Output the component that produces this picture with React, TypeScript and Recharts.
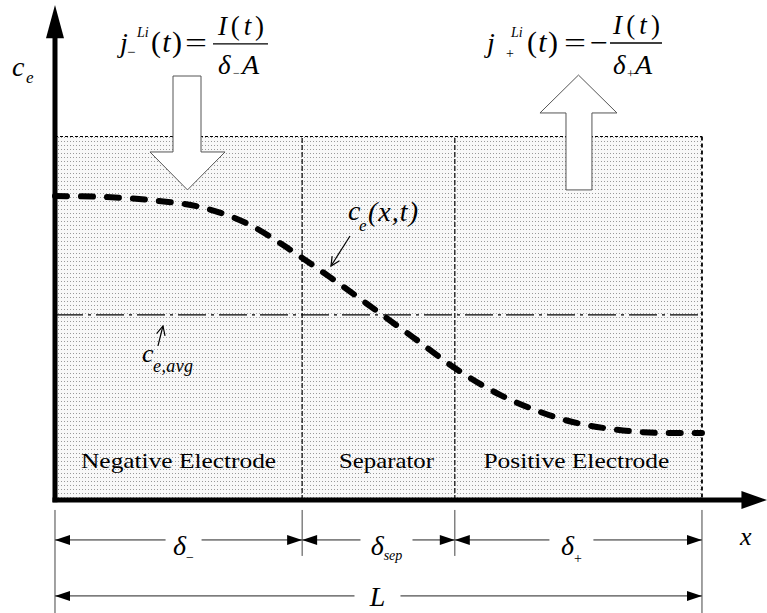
import React from 'react';
import { ComposedChart, Line, XAxis, YAxis, ReferenceArea, ReferenceLine, ReferenceDot } from 'recharts';

// cell length normalised to 0..100, electrolyte concentration normalised to 0..1
const regionNames = ['Negative Electrode', 'Separator', 'Positive Electrode'];
const regionEdges = [0, 38.2, 61.8, 100];
const regionTop = 1;

const curveX = [0, 7, 14.7, 22.4, 30.1, 35.2, 38.2, 42.5, 50.2, 55.3, 61.8, 68.8, 73.4, 78.8, 86.9, 95.1, 100];
const curveC = [0.836, 0.834, 0.825, 0.806, 0.757, 0.702, 0.666, 0.613, 0.514, 0.448, 0.363, 0.289, 0.253, 0.22, 0.193, 0.184, 0.184];
const cAvg = 0.509;

const dimSubs = ['−', 'sep', '+'];

const data = curveX.map((x, i) => ({ x, c: curveC[i] }));

const SERIF = 'Liberation Serif';
const X_DOMAIN = [-8.5, 110.05];
const Y_DOMAIN = [-0.311, 1.3755];
const ROW1 = -0.11;
const ROW2 = -0.264;

type Part = { t: React.ReactNode; dx: number; dy: number; size: number; it?: boolean; len?: number; sp?: boolean };

const paren = (
  <>
    (<tspan fontStyle="italic">t</tspan>)
  </>
);
const numer = (
  <>
    <tspan fontStyle="italic">I</tspan>(<tspan fontStyle="italic">t</tspan>)
  </>
);

const leftFormula: Part[] = [
  { t: 'j', dx: -93, dy: 8, size: 28, it: true },
  { t: '−', dx: -86, dy: 13, size: 15 },
  { t: 'Li', dx: -76, dy: -7, size: 14, it: true },
  { t: paren, dx: -62, dy: 8, size: 30, len: 31, sp: true },
  { t: '=', dx: -28, dy: 8, size: 28, len: 22 },
  { t: numer, dx: 5, dy: -9, size: 27, len: 46, sp: true },
  { t: 'δ', dx: 5, dy: 30, size: 27, it: true },
  { t: '−', dx: 20, dy: 33, size: 12 },
  { t: 'A', dx: 29, dy: 30, size: 28, it: true },
];

const rightFormula: Part[] = [
  { t: 'j', dx: -123, dy: 9, size: 28, it: true },
  { t: '+', dx: -104, dy: 15, size: 14 },
  { t: 'Li', dx: -99, dy: -6, size: 14, it: true },
  { t: paren, dx: -83, dy: 9, size: 30, len: 31, sp: true },
  { t: '=', dx: -46, dy: 9, size: 28, len: 22 },
  { t: '−', dx: -20, dy: 9, size: 28, len: 18 },
  { t: numer, dx: 3, dy: -9, size: 27, len: 47, sp: true },
  { t: 'δ', dx: 3, dy: 31, size: 27, it: true },
  { t: '+', dx: 17, dy: 35, size: 13 },
  { t: 'A', dx: 25, dy: 31, size: 28, it: true },
];

function Parts({ cx, cy, parts, bar }: { cx: number; cy: number; parts: Part[]; bar?: number[] }) {
  return (
    <g fill="#000">
      {parts.map((p, i) => (
        <text
          key={i}
          x={cx + p.dx}
          y={cy + p.dy}
          fontFamily={SERIF}
          fontSize={p.size}
          fontStyle={p.it ? 'italic' : 'normal'}
          textLength={p.len}
          lengthAdjust={p.len ? (p.sp ? 'spacing' : 'spacingAndGlyphs') : undefined}
        >
          {p.t}
        </text>
      ))}
      {bar && <line x1={cx + bar[0]} x2={cx + bar[1]} y1={cy} y2={cy} stroke="#000" strokeWidth={1.3} />}
    </g>
  );
}

const regionShape = (p: any) => {
  const { x, y, width, height } = p;
  return (
    <g>
      <defs>
        <pattern id="dots" width="3" height="4" patternUnits="userSpaceOnUse">
          <rect width="3" height="4" fill="#f8f8f8" />
          <rect x="1" y="1" width="1" height="1" fill="#999" />
        </pattern>
      </defs>
      <rect x={x} y={y} width={width} height={height} fill="url(#dots)" />
      <line x1={x} x2={x + width} y1={y} y2={y} stroke="#000" strokeWidth={1.2} strokeDasharray="3 2" />
      <line x1={x + width} x2={x + width} y1={y} y2={y + height} stroke="#000" strokeWidth={1.8} strokeDasharray="4 3" />
    </g>
  );
};

const blockArrow = (dir: 'down' | 'up', sl: number, sr: number, hf: number) => (p: any) => {
  const { x, y, width: w, height: h } = p;
  const L = x + sl * w;
  const R = x + sr * w;
  const hy = y + hf * h;
  const pts =
    dir === 'down'
      ? [[L, y], [R, y], [R, hy], [x + w, hy], [x + w / 2, y + h], [x, hy], [L, hy]]
      : [[L, y + h], [R, y + h], [R, hy], [x + w, hy], [x + w / 2, y], [x, hy], [L, hy]];
  return <polygon points={pts.map((q) => q.join(',')).join(' ')} fill="#fff" stroke="#555" strokeWidth={1} />;
};

const triangle = (dir: 'up' | 'right') => (p: any) => {
  const { x, y, width: w, height: h } = p;
  const pts = dir === 'up' ? `${x + w / 2},${y} ${x + w},${y + h} ${x},${y + h}` : `${x + w},${y + h / 2} ${x},${y} ${x},${y + h}`;
  return <polygon points={pts} fill="#000" />;
};

const pointer = (tip: 'bl' | 'tr') => (p: any) => {
  const { x, y, width: w, height: h } = p;
  const [tx, ty, sx, sy] = tip === 'bl' ? [x, y + h, x + w, y] : [x + w, y, x, y + h];
  const ang = Math.atan2(ty - sy, tx - sx);
  const len = 10;
  const s = 0.45;
  const a1 = [tx - len * Math.cos(ang - s), ty - len * Math.sin(ang - s)];
  const a2 = [tx - len * Math.cos(ang + s), ty - len * Math.sin(ang + s)];
  return (
    <g stroke="#000" strokeWidth={1.2} fill="none">
      <line x1={sx} y1={sy} x2={tx} y2={ty} />
      <polyline points={`${a1.join(',')} ${tx},${ty} ${a2.join(',')}`} />
    </g>
  );
};

const dimShape = (main: string, sub: string, subDy: number, offset: number, boxW: number) => (p: any) => {
  const { x, y, width: w, height: h } = p;
  const my = y + h / 2;
  const cx = x + w / 2 + offset;
  return (
    <g>
      <line x1={x} x2={x + w} y1={my} y2={my} stroke="#222" strokeWidth={1} />
      <polygon points={`${x},${my} ${x + 15},${my - 5} ${x + 15},${my + 5}`} fill="#000" />
      <polygon points={`${x + w},${my} ${x + w - 15},${my - 5} ${x + w - 15},${my + 5}`} fill="#000" />
      <rect x={cx - boxW / 2} y={my - 14} width={boxW} height={28} fill="#fff" />
      <text x={cx} y={my + (main === 'L' ? 10 : 15)} textAnchor="middle" fontFamily={SERIF} fontSize={28} fill="#000">
        <tspan fontStyle="italic">{main}</tspan>
        {sub && (
          <tspan fontSize={14} fontStyle={sub === 'sep' ? 'italic' : 'normal'} dy={subDy}>
            {sub}
          </tspan>
        )}
      </text>
    </g>
  );
};

const labelNudge = [0, 8, -2];
const labelWidth = [195, 95, 186];
const dimNudge = [5, 8, -7];
const dimBox = [36, 52, 44];
const dimSubDy = [7, 5, 8];

export default function App() {
  return (
    <div style={{ position: 'absolute', left: 0, top: 0, width: 767, height: 613, background: '#fff' }}>
      <ComposedChart width={767} height={613} data={data} margin={{ top: 0, right: 0, bottom: 0, left: 0 }}>
        <XAxis type="number" dataKey="x" domain={X_DOMAIN} hide allowDataOverflow />
        <YAxis type="number" domain={Y_DOMAIN} hide allowDataOverflow />

        <ReferenceArea x1={regionEdges[0]} x2={regionEdges[3]} y1={0} y2={regionTop} shape={regionShape} />
        {regionEdges.slice(1, 3).map((e) => (
          <ReferenceLine
            key={`sep-${e}`}
            segment={[{ x: e, y: 0 }, { x: e, y: regionTop }]}
            stroke="#000"
            strokeWidth={1.2}
            strokeDasharray="5 2"
          />
        ))}
        <ReferenceLine
          segment={[{ x: 0, y: cAvg }, { x: 100, y: cAvg }]}
          stroke="#000"
          strokeWidth={1.3}
          strokeDasharray="28 5 3 5"
        />

        {/* axes */}
        <ReferenceLine segment={[{ x: 0, y: -0.006 }, { x: 0, y: 1.282 }]} stroke="#000" strokeWidth={5} />
        <ReferenceLine segment={[{ x: -0.39, y: 0 }, { x: 106.6, y: 0 }]} stroke="#000" strokeWidth={5} />
        <ReferenceArea x1={-1.39} x2={1.39} y1={1.27} y2={1.362} shape={triangle('up')} />
        <ReferenceArea x1={106.1} x2={110.05} y1={-0.0248} y2={0.0248} shape={triangle('right')} />

        <Line
          type="monotone"
          dataKey="c"
          stroke="#000"
          strokeWidth={6}
          strokeDasharray="12 14"
          strokeLinecap="round"
          dot={false}
          activeDot={false}
          isAnimationActive={false}
        />

        {/* flux arrows */}
        <ReferenceArea x1={14.68} x2={26.28} y1={0.853} y2={1.1664} shape={blockArrow('down', 0.307, 0.68, 0.667)} />
        <ReferenceArea x1={74.96} x2={86.86} y1={0.853} y2={1.169} shape={blockArrow('up', 0.338, 0.675, 0.33)} />

        <ReferenceDot x={24.42} y={1.255} r={1} shape={(p: any) => <Parts cx={p.cx} cy={p.cy} parts={leftFormula} bar={[0, 55]} />} />
        <ReferenceDot x={85.78} y={1.2572} r={1} shape={(p: any) => <Parts cx={p.cx} cy={p.cy} parts={rightFormula} bar={[0, 52]} />} />

        {/* axis labels */}
        <ReferenceDot
          x={-6.65}
          y={1.167}
          r={1}
          shape={(p: any) => (
            <Parts cx={p.cx} cy={p.cy} parts={[{ t: 'c', dx: 0, dy: 0, size: 28, it: true }, { t: 'e', dx: 14, dy: 7, size: 17, it: true }]} />
          )}
        />
        <ReferenceDot
          x={105.87}
          y={-0.124}
          r={1}
          shape={(p: any) => <Parts cx={p.cx} cy={p.cy} parts={[{ t: 'x', dx: 0, dy: 0, size: 26, it: true }]} />}
        />

        {/* curve annotations */}
        <ReferenceDot
          x={45.29}
          y={0.7703}
          r={1}
          shape={(p: any) => (
            <Parts
              cx={p.cx}
              cy={p.cy}
              parts={[
                { t: 'c', dx: 0, dy: 0, size: 28, it: true },
                { t: 'e', dx: 11, dy: 11, size: 17, it: true },
                { t: '(x,t)', dx: 20, dy: 1, size: 28, it: true, len: 50, sp: true },
              ]}
            />
          )}
        />
        <ReferenceArea x1={42.66} x2={45.6} y1={0.6437} y2={0.7263} shape={pointer('bl')} />
        <ReferenceDot
          x={13.45}
          y={0.3796}
          r={1}
          shape={(p: any) => (
            <Parts
              cx={p.cx}
              cy={p.cy}
              parts={[
                { t: 'c', dx: 0, dy: 0, size: 26, it: true },
                { t: 'e,avg', dx: 11, dy: 10, size: 18, it: true, len: 40, sp: true },
              ]}
            />
          )}
        />
        <ReferenceArea x1={15.92} x2={16.69} y1={0.4237} y2={0.4787} shape={pointer('tr')} />

        {/* region names */}
        {regionNames.map((name, i) => (
          <ReferenceDot
            key={name}
            x={(regionEdges[i] + regionEdges[i + 1]) / 2}
            y={0.088}
            r={1}
            shape={(p: any) => (
              <text
                x={p.cx + labelNudge[i]}
                y={p.cy}
                textAnchor="middle"
                fontFamily={SERIF}
                fontSize={21}
                fill="#000"
                textLength={labelWidth[i]}
                lengthAdjust="spacingAndGlyphs"
              >
                {name}
              </text>
            )}
          />
        ))}

        {/* dimension ticks */}
        {regionEdges.map((e, i) => (
          <ReferenceLine
            key={`tick-${e}`}
            segment={[{ x: e, y: -0.0275 }, { x: e, y: i === 0 || i === 3 ? -0.311 : -0.154 }]}
            stroke="#444"
            strokeWidth={1}
          />
        ))}
        {dimSubs.map((s, i) => (
          <ReferenceArea
            key={`dim-${s}`}
            x1={regionEdges[i]}
            x2={regionEdges[i + 1]}
            y1={ROW1 - 0.02}
            y2={ROW1 + 0.02}
            shape={dimShape('δ', s, dimSubDy[i], dimNudge[i], dimBox[i])}
          />
        ))}
        <ReferenceArea x1={0} x2={100} y1={ROW2 - 0.02} y2={ROW2 + 0.02} shape={dimShape('L', '', 0, -1, 46)} />
      </ComposedChart>
    </div>
  );
}
